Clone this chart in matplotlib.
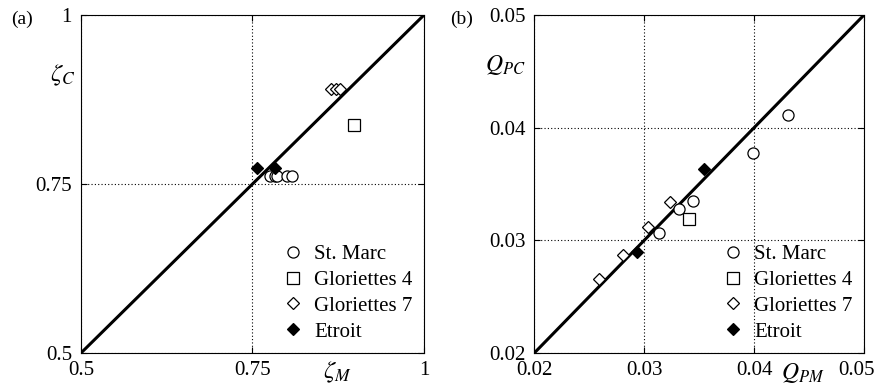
import numpy as np
from matplotlib import pyplot as plt
from matplotlib import transforms

plt.rcParams['font.family'] = ['Liberation Serif', 'DejaVu Serif']
plt.rcParams['mathtext.fontset'] = 'stix'

# panel (a): damping ratios, measured vs computed
a_marc_x = [0.775, 0.783, 0.786, 0.800, 0.808]
a_marc_y = [0.762, 0.762, 0.762, 0.762, 0.762]
a_glo4_x = [0.898]
a_glo4_y = [0.837]
a_glo7_x = [0.865, 0.871, 0.877]
a_glo7_y = [0.890, 0.890, 0.890]
a_etr_x = [0.756, 0.783]
a_etr_y = [0.773, 0.773]

# panel (b): Q_PM vs Q_PC
b_marc_x = [0.04311, 0.03993, 0.03447, 0.03320, 0.03138]
b_marc_y = [0.04113, 0.03773, 0.03351, 0.03277, 0.03064]
b_glo4_x = [0.03411]
b_glo4_y = [0.03191]
b_glo7_x = [0.02591, 0.02810, 0.03031, 0.03234]
b_glo7_y = [0.02656, 0.02872, 0.03114, 0.03339]
b_etr_x = [0.02931, 0.03544]
b_etr_y = [0.02896, 0.03631]

a_ticks = [0.5, 0.75, 1.0]
a_labels = ['0.5', '0.75', '1']
b_ticks = [0.02, 0.03, 0.04, 0.05]
b_labels = ['0.02', '0.03', '0.04', '0.05']

fig = plt.figure(figsize=(8.78, 3.89), dpi=100)
ax1 = fig.add_axes([81/878, 36/389, 343/878, 338/389])
ax2 = fig.add_axes([534.3/878, 36/389, 329.7/878, 338/389])

def style(ax, lo, hi, ticks, labels):
    ax.set_xlim(lo, hi)
    ax.set_ylim(lo, hi)
    ax.plot([lo, hi], [lo, hi], color='black', lw=2.2, zorder=2)
    ax.set_xticks(ticks)
    ax.set_xticklabels(labels)
    ax.set_yticks(ticks)
    ax.set_yticklabels(labels)
    ax.tick_params(direction='in', length=4, width=0.8, labelsize=15, top=True, right=True)
    ax.tick_params(axis='y', pad=6.5)
    ax.tick_params(axis='x', pad=6)
    ax.grid(True, linestyle=(0, (1, 2)), color='black', lw=0.8)
    for s in ax.spines.values():
        s.set_linewidth(0.8)

def points(ax, d, ms):
    ax.plot(d[0], d[1], 'o', mfc='white', mec='black', ms=ms[0], mew=0.9, label='St. Marc', zorder=3)
    ax.plot(d[2], d[3], 's', mfc='white', mec='black', ms=ms[1], mew=0.9, label='Gloriettes 4', zorder=3)
    ax.plot(d[4], d[5], 'D', mfc='white', mec='black', ms=ms[2], mew=0.9, label='Gloriettes 7', zorder=3)
    ax.plot(d[6], d[7], 'D', mfc='black', mec='black', ms=ms[2], mew=0.9, label='Etroit', zorder=3)
    ax.legend(loc='lower right', frameon=False, fontsize=15, handletextpad=0.5,
              handlelength=1.0, labelspacing=0.3, borderaxespad=0.35, borderpad=0.2)

style(ax1, 0.5, 1.0, a_ticks, a_labels)
points(ax1, [a_marc_x, a_marc_y, a_glo4_x, a_glo4_y, a_glo7_x, a_glo7_y, a_etr_x, a_etr_y], [8, 8.5, 6.5])
ax1.text(0.746, -0.056, r'$\zeta_M$', transform=ax1.transAxes, fontsize=18, ha='center', va='center')
ax1.text(-0.052, 0.822, r'$\zeta_C$', transform=ax1.transAxes, fontsize=18, ha='center', va='center')
fig.text(22/878, 1-19/389, '(a)', fontsize=14, ha='center', va='center')

style(ax2, 0.02, 0.05, b_ticks, b_labels)
points(ax2, [b_marc_x, b_marc_y, b_glo4_x, b_glo4_y, b_glo7_x, b_glo7_y, b_etr_x, b_etr_y], [8, 8, 6.5])
ax2.text(0.815, -0.06, r'$Q_{PM}$', transform=ax2.transAxes, fontsize=17, ha='center', va='center')
ax2.text(-0.089, 0.852, r'$Q_{PC}$', transform=ax2.transAxes, fontsize=17, ha='center', va='center')
fig.text(462/878, 1-19/389, '(b)', fontsize=14, ha='center', va='center')

# last x label of panel (b) is pulled left to stay inside the figure
last = ax2.get_xticklabels()[-1]
last.set_transform(last.get_transform() + transforms.ScaledTranslation(-7/100, 0, fig.dpi_scale_trans))

plt.savefig('out.png', dpi=100)
